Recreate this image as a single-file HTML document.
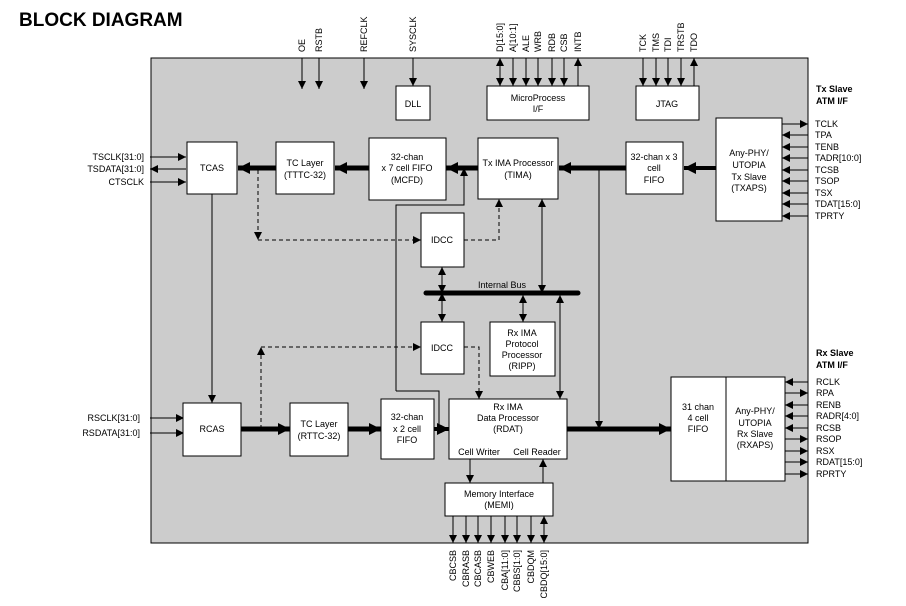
<!DOCTYPE html>
<html><head><meta charset="utf-8"><style>
body{margin:0;background:#fff}
svg{display:block;font-family:"Liberation Sans",Arial,sans-serif}
</style></head><body>
<svg width="906" height="606" viewBox="0 0 906 606" xmlns="http://www.w3.org/2000/svg">
<defs>
<marker id="a" viewBox="0 0 10 10" refX="10" refY="5" markerWidth="9" markerHeight="8" markerUnits="userSpaceOnUse" orient="auto-start-reverse"><path d="M0,0L10,5L0,10z"/></marker>
<marker id="A" viewBox="0 0 10 10" refX="10" refY="5" markerWidth="14" markerHeight="12" markerUnits="userSpaceOnUse" orient="auto-start-reverse"><path d="M0,0L10,5L0,10z"/></marker>
</defs>
<text x="19" y="26" font-size="19" font-weight="bold">BLOCK DIAGRAM</text>
<rect x="151" y="58" width="657" height="485" fill="#cccccc" stroke="#000" stroke-width="1"/>

<g stroke="#000" stroke-width="1" fill="none">
<line x1="302" y1="58" x2="302" y2="89" marker-end="url(#a)"/>
<line x1="319" y1="58" x2="319" y2="89" marker-end="url(#a)"/>
<line x1="364" y1="58" x2="364" y2="89" marker-end="url(#a)"/>
<line x1="413" y1="58" x2="413" y2="86" marker-end="url(#a)"/>
<line x1="500" y1="58" x2="500" y2="86" marker-start="url(#a)" marker-end="url(#a)"/>
<line x1="513" y1="58" x2="513" y2="86" marker-end="url(#a)"/>
<line x1="526" y1="58" x2="526" y2="86" marker-end="url(#a)"/>
<line x1="538" y1="58" x2="538" y2="86" marker-end="url(#a)"/>
<line x1="552" y1="58" x2="552" y2="86" marker-end="url(#a)"/>
<line x1="564" y1="58" x2="564" y2="86" marker-end="url(#a)"/>
<line x1="578" y1="86" x2="578" y2="58" marker-end="url(#a)"/>
<line x1="643" y1="58" x2="643" y2="86" marker-end="url(#a)"/>
<line x1="656" y1="58" x2="656" y2="86" marker-end="url(#a)"/>
<line x1="668" y1="58" x2="668" y2="86" marker-end="url(#a)"/>
<line x1="681" y1="58" x2="681" y2="86" marker-end="url(#a)"/>
<line x1="694" y1="86" x2="694" y2="58" marker-end="url(#a)"/>
<line x1="150" y1="157" x2="186" y2="157" marker-end="url(#a)"/>
<line x1="186" y1="169" x2="150" y2="169" marker-end="url(#a)"/>
<line x1="150" y1="182" x2="186" y2="182" marker-end="url(#a)"/>
<line x1="150" y1="418" x2="184" y2="418" marker-end="url(#a)"/>
<line x1="150" y1="433" x2="184" y2="433" marker-end="url(#a)"/>
<line x1="782" y1="124" x2="808" y2="124" marker-end="url(#a)"/>
<line x1="808" y1="135" x2="782" y2="135" marker-end="url(#a)"/>
<line x1="808" y1="147" x2="782" y2="147" marker-end="url(#a)"/>
<line x1="808" y1="158" x2="782" y2="158" marker-end="url(#a)"/>
<line x1="808" y1="170" x2="782" y2="170" marker-end="url(#a)"/>
<line x1="808" y1="181" x2="782" y2="181" marker-end="url(#a)"/>
<line x1="808" y1="193" x2="782" y2="193" marker-end="url(#a)"/>
<line x1="808" y1="204" x2="782" y2="204" marker-end="url(#a)"/>
<line x1="808" y1="216" x2="782" y2="216" marker-end="url(#a)"/>
<line x1="808" y1="382" x2="785" y2="382" marker-end="url(#a)"/>
<line x1="785" y1="393" x2="808" y2="393" marker-end="url(#a)"/>
<line x1="808" y1="405" x2="785" y2="405" marker-end="url(#a)"/>
<line x1="808" y1="416" x2="785" y2="416" marker-end="url(#a)"/>
<line x1="808" y1="428" x2="785" y2="428" marker-end="url(#a)"/>
<line x1="785" y1="439" x2="808" y2="439" marker-end="url(#a)"/>
<line x1="785" y1="451" x2="808" y2="451" marker-end="url(#a)"/>
<line x1="785" y1="462" x2="808" y2="462" marker-end="url(#a)"/>
<line x1="785" y1="474" x2="808" y2="474" marker-end="url(#a)"/>
<line x1="453" y1="516" x2="453" y2="543" marker-end="url(#a)"/>
<line x1="466" y1="516" x2="466" y2="543" marker-end="url(#a)"/>
<line x1="478" y1="516" x2="478" y2="543" marker-end="url(#a)"/>
<line x1="491" y1="516" x2="491" y2="543" marker-end="url(#a)"/>
<line x1="505" y1="516" x2="505" y2="543" marker-end="url(#a)"/>
<line x1="517" y1="516" x2="517" y2="543" marker-end="url(#a)"/>
<line x1="531" y1="516" x2="531" y2="543" marker-end="url(#a)"/>
<line x1="544" y1="516" x2="544" y2="543" marker-start="url(#a)" marker-end="url(#a)"/>

<g stroke-width="5">
<line x1="716" y1="168" x2="684" y2="168" marker-end="url(#A)" stroke-width="4"/>
<line x1="626" y1="168" x2="559" y2="168" marker-end="url(#A)"/>
<line x1="478" y1="168" x2="446" y2="168" marker-end="url(#A)"/>
<line x1="369" y1="168" x2="335" y2="168" marker-end="url(#A)"/>
<line x1="276" y1="168" x2="238" y2="168" marker-end="url(#A)"/>
<line x1="241" y1="429" x2="290" y2="429" marker-end="url(#A)"/>
<line x1="348" y1="429" x2="381" y2="429" marker-end="url(#A)"/>
<line x1="434" y1="429" x2="449" y2="429" marker-end="url(#A)" stroke-width="4"/>
<line x1="567" y1="429" x2="671" y2="429" marker-end="url(#A)"/>
<line x1="426" y1="293" x2="578" y2="293" stroke-linecap="round"/>
</g>

<line x1="212" y1="194" x2="212" y2="403" marker-end="url(#a)"/>
<line x1="599" y1="168" x2="599" y2="429" marker-end="url(#a)"/>
<polyline points="396,391 439,391 439,429" />
<line x1="439" y1="429" x2="449" y2="429" marker-end="url(#a)"/>
<polyline points="396,391 396,205 464,205 464,168" marker-end="url(#a)"/>
<line x1="542" y1="293" x2="542" y2="199" marker-start="url(#a)" marker-end="url(#a)"/>
<line x1="442" y1="267" x2="442" y2="293" marker-start="url(#a)" marker-end="url(#a)"/>
<line x1="442" y1="293" x2="442" y2="322" marker-end="url(#a)"/>
<line x1="442" y1="296" x2="442" y2="293" marker-end="url(#a)"/>
<line x1="523" y1="295" x2="523" y2="322" marker-start="url(#a)" marker-end="url(#a)"/>
<line x1="560" y1="295" x2="560" y2="399" marker-start="url(#a)" marker-end="url(#a)"/>
<line x1="470" y1="459" x2="470" y2="483" marker-end="url(#a)"/>
<line x1="543" y1="483" x2="543" y2="459" marker-end="url(#a)"/>

<g stroke-dasharray="4,3">
<polyline points="258,170 258,240" marker-end="url(#a)"/>
<polyline points="258,240 421,240" marker-end="url(#a)"/>
<polyline points="464,240 499,240 499,199" marker-end="url(#a)"/>
<polyline points="261,429 261,347" marker-end="url(#a)"/>
<polyline points="261,347 421,347" marker-end="url(#a)"/>
<polyline points="464,347 479,347 479,399" marker-end="url(#a)"/>
</g>
</g>

<g fill="#fff" stroke="#000" stroke-width="1">
<rect x="396" y="86" width="34" height="34"/>
<rect x="487" y="86" width="102" height="34"/>
<rect x="636" y="86" width="63" height="34"/>
<rect x="187" y="142" width="50" height="52"/>
<rect x="276" y="142" width="58" height="52"/>
<rect x="369" y="138" width="77" height="62"/>
<rect x="478" y="138" width="80" height="61"/>
<rect x="626" y="142" width="57" height="52"/>
<rect x="716" y="118" width="66" height="103"/>
<rect x="421" y="213" width="43" height="54"/>
<rect x="421" y="322" width="43" height="52"/>
<rect x="490" y="322" width="65" height="54"/>
<rect x="183" y="403" width="58" height="53"/>
<rect x="290" y="403" width="58" height="53"/>
<rect x="381" y="399" width="53" height="60"/>
<rect x="449" y="399" width="118" height="60"/>
<rect x="445" y="483" width="108" height="33"/>
<rect x="671" y="377" width="114" height="104"/>
<line x1="726" y1="377" x2="726" y2="481"/>
</g>

<g font-size="9" text-anchor="middle" fill="#000">
<text x="413" y="107">DLL</text>
<text x="538" y="101">MicroProcess</text><text x="538" y="112">I/F</text>
<text x="667" y="107">JTAG</text>
<text x="212" y="171">TCAS</text>
<text x="305" y="166">TC Layer</text><text x="305" y="178">(TTTC-32)</text>
<text x="407" y="160">32-chan</text><text x="407" y="171">x 7 cell FIFO</text><text x="407" y="183">(MCFD)</text>
<text x="518" y="166">Tx IMA Processor</text><text x="518" y="178">(TIMA)</text>
<text x="654" y="160">32-chan x 3</text><text x="654" y="171">cell</text><text x="654" y="183">FIFO</text>
<text x="749" y="156">Any-PHY/</text><text x="749" y="168">UTOPIA</text><text x="749" y="180">Tx Slave</text><text x="749" y="191">(TXAPS)</text>
<text x="442" y="243">IDCC</text>
<text x="502" y="288">Internal Bus</text>
<text x="442" y="351">IDCC</text>
<text x="522" y="336">Rx IMA</text><text x="522" y="347">Protocol</text><text x="522" y="358">Processor</text><text x="522" y="369">(RIPP)</text>
<text x="212" y="432">RCAS</text>
<text x="319" y="427">TC Layer</text><text x="319" y="439">(RTTC-32)</text>
<text x="407" y="420">32-chan</text><text x="407" y="432">x 2 cell</text><text x="407" y="443">FIFO</text>
<text x="508" y="410">Rx IMA</text><text x="508" y="421">Data Processor</text><text x="508" y="432">(RDAT)</text>
<text x="479" y="455">Cell Writer</text><text x="537" y="455">Cell Reader</text>
<text x="499" y="497">Memory Interface</text><text x="499" y="508">(MEMI)</text>
<text x="698" y="410">31 chan</text><text x="698" y="421">4 cell</text><text x="698" y="432">FIFO</text>
<text x="755" y="414">Any-PHY/</text><text x="755" y="426">UTOPIA</text><text x="755" y="437">Rx Slave</text><text x="755" y="448">(RXAPS)</text>
</g>
<g font-size="9" text-anchor="end">
<text x="144" y="160">TSCLK[31:0]</text><text x="144" y="172">TSDATA[31:0]</text><text x="144" y="185">CTSCLK</text>
<text x="140" y="421">RSCLK[31:0]</text><text x="140" y="436">RSDATA[31:0]</text>
</g>
<g font-size="9">
<text x="816" y="92" font-weight="bold">Tx Slave</text><text x="816" y="104" font-weight="bold">ATM I/F</text>
<text x="815" y="127">TCLK</text><text x="815" y="138">TPA</text><text x="815" y="150">TENB</text><text x="815" y="161">TADR[10:0]</text><text x="815" y="173">TCSB</text><text x="815" y="184">TSOP</text><text x="815" y="196">TSX</text><text x="815" y="207">TDAT[15:0]</text><text x="815" y="219">TPRTY</text>
<text x="816" y="356" font-weight="bold">Rx Slave</text><text x="816" y="368" font-weight="bold">ATM I/F</text>
<text x="816" y="385">RCLK</text><text x="816" y="396">RPA</text><text x="816" y="408">RENB</text><text x="816" y="419">RADR[4:0]</text><text x="816" y="431">RCSB</text><text x="816" y="442">RSOP</text><text x="816" y="454">RSX</text><text x="816" y="465">RDAT[15:0]</text><text x="816" y="477">RPRTY</text>
</g>
<g font-size="9">
<text transform="translate(305,52) rotate(-90)">OE</text>
<text transform="translate(322,52) rotate(-90)">RSTB</text>
<text transform="translate(367,52) rotate(-90)">REFCLK</text>
<text transform="translate(416,52) rotate(-90)">SYSCLK</text>
<text transform="translate(503,52) rotate(-90)">D[15:0]</text>
<text transform="translate(516,52) rotate(-90)">A[10:1]</text>
<text transform="translate(529,52) rotate(-90)">ALE</text>
<text transform="translate(541,52) rotate(-90)">WRB</text>
<text transform="translate(555,52) rotate(-90)">RDB</text>
<text transform="translate(567,52) rotate(-90)">CSB</text>
<text transform="translate(581,52) rotate(-90)">INTB</text>
<text transform="translate(646,52) rotate(-90)">TCK</text>
<text transform="translate(659,52) rotate(-90)">TMS</text>
<text transform="translate(671,52) rotate(-90)">TDI</text>
<text transform="translate(684,52) rotate(-90)">TRSTB</text>
<text transform="translate(697,52) rotate(-90)">TDO</text>
</g>
<g font-size="9" text-anchor="end">
<text transform="translate(456,550) rotate(-90)">CBCSB</text>
<text transform="translate(469,550) rotate(-90)">CBRASB</text>
<text transform="translate(481,550) rotate(-90)">CBCASB</text>
<text transform="translate(494,550) rotate(-90)">CBWEB</text>
<text transform="translate(508,550) rotate(-90)">CBA[11:0]</text>
<text transform="translate(520,550) rotate(-90)">CBBS[1:0]</text>
<text transform="translate(534,550) rotate(-90)">CBDQM</text>
<text transform="translate(547,550) rotate(-90)">CBDQ[15:0]</text>
</g>
</svg>
</body></html>
